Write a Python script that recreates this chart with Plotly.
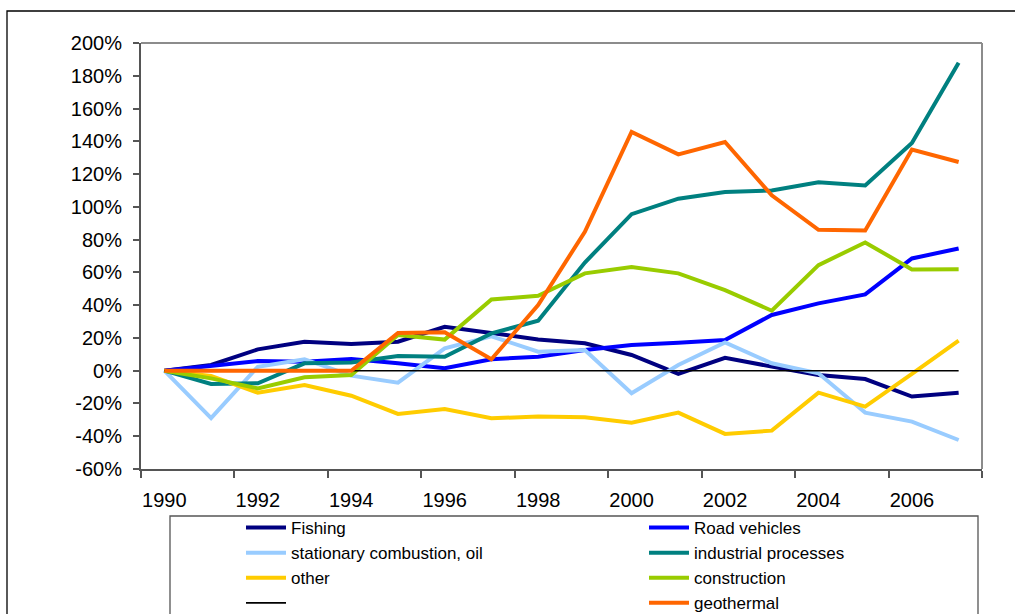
import plotly.graph_objects as go

years = list(range(1990, 2008))

fishing = [0, 3.5, 13, 17.7, 16.3, 17.7, 26.8, 22.8, 19.1, 16.7, 9.6, -2, 7.9, 2.5, -2.6, -5.1, -15.8, -13.4]
road_vehicles = [0, 3, 5.9, 5.5, 7.1, 4.5, 1.5, 7, 8.5, 12.6, 15.7, 17.1, 18.7, 34, 41.1, 46.6, 68.5, 74.6]
stationary_oil = [0, -29, 2.4, 7, -3, -7.3, 13.6, 21, 11.6, 12.6, -13.8, 3.5, 17.3, 4.5, -1.6, -25.6, -31.1, -42.3]
industrial = [0, -8.1, -7.7, 4.5, 5, 9, 8.5, 22.8, 30.5, 66, 95.5, 105, 109, 110, 115, 113, 139, 188]
other = [0, -3.2, -13.4, -8.7, -15.3, -26.4, -23.4, -29, -28, -28.4, -31.7, -25.6, -38.6, -36.6, -13.4, -21.9, -2, 18.3]
construction = [0, -4.7, -10.8, -4, -2.6, 21.8, 19, 43.5, 45.7, 59.4, 63.2, 59.4, 49.2, 36.6, 64.4, 78.3, 61.8, 61.9]
baseline = [0] * 18
geothermal = [0, 0, 0, 0, 0, 23, 23.4, 7, 40, 84.8, 145.7, 132, 139.6, 107, 86, 85.6, 135, 127.4]

series_names = ["Fishing", "Road vehicles", "stationary combustion, oil", "industrial processes",
                "other", "construction", " ", "geothermal"]
series_values = [fishing, road_vehicles, stationary_oil, industrial, other, construction, baseline, geothermal]
series_colors = ["#000080", "#0000FF", "#99CCFF", "#008080", "#FFCC00", "#99CC00", "#000000", "#FF6600"]
series_widths = [4, 4, 4, 4, 4, 4, 1.6, 4]

x_tick_years = list(range(1990, 2008, 2))
y_ticks = list(range(-60, 201, 20))

FONT = "Liberation Sans, Arial, sans-serif"

fig = go.Figure()
for name, vals, col, w in zip(series_names, series_values, series_colors, series_widths):
    fig.add_trace(go.Scatter(x=years, y=vals, mode="lines", name=name, showlegend=True,
                             line=dict(color=col, width=w)))

W, H = 1015, 614
L, R, T, B = 141, 33, 43, 145
pw, ph = W - L - R, H - T - B

def px(xp):
    return (xp - L) / pw

def py(yp):
    return (H - B - yp) / ph

fig.update_layout(
    width=W, height=H,
    margin=dict(l=L, r=R, t=T, b=B, autoexpand=False),
    paper_bgcolor="white", plot_bgcolor="white",
    font=dict(family=FONT, size=20, color="black"),
    xaxis=dict(
        range=[1989.5, 2007.5], showgrid=False, zeroline=False,
        tickmode="array", tickvals=x_tick_years, ticktext=[str(y) for y in x_tick_years],
        ticks="", showline=True, linecolor="#555555", linewidth=2,
        ticklabelstandoff=12,
        minor=dict(tickmode="array", tickvals=[y - 0.5 for y in range(1990, 2009, 2)],
                   ticks="outside", ticklen=7, tickcolor="#555555", tickwidth=2, showgrid=False),
        tickfont=dict(size=20),
    ),
    yaxis=dict(
        range=[-60, 200], showgrid=False, zeroline=False,
        tickmode="array", tickvals=y_ticks, ticktext=[f"{v}%" for v in y_ticks],
        ticks="outside", ticklen=6, tickcolor="#555555", tickwidth=2,
        showline=True, linecolor="#555555", linewidth=2,
        ticklabelstandoff=7,
        tickfont=dict(size=20),
    ),
    legend=dict(
        orientation="h", x=px(241), y=py(510), xanchor="left", yanchor="top",
        entrywidth=348, entrywidthmode="pixels", itemwidth=40,
        font=dict(family=FONT, size=17, color="black"),
        bgcolor="rgba(0,0,0,0)", borderwidth=0, tracegroupgap=0,
    ),
    shapes=[
        # plot area top/right border
        dict(type="line", xref="paper", yref="paper", x0=0, x1=1, y0=1, y1=1,
             line=dict(color="#8c8c8c", width=2)),
        dict(type="line", xref="paper", yref="paper", x0=1, x1=1, y0=0, y1=1,
             line=dict(color="#8c8c8c", width=2)),
        # outer chart frame
        dict(type="rect", xref="paper", yref="paper", x0=px(7), x1=px(1030), y0=py(11), y1=py(640),
             line=dict(color="black", width=1.3), layer="below"),
        # legend box
        dict(type="rect", xref="paper", yref="paper", x0=px(170), x1=px(978), y0=py(516), y1=py(640),
             line=dict(color="#555555", width=1.3), layer="below"),
    ],
)

fig.write_html("out.html", config={"displayModeBar": False},
               post_script="document.body.style.margin='0px';document.body.style.overflow='hidden';")
